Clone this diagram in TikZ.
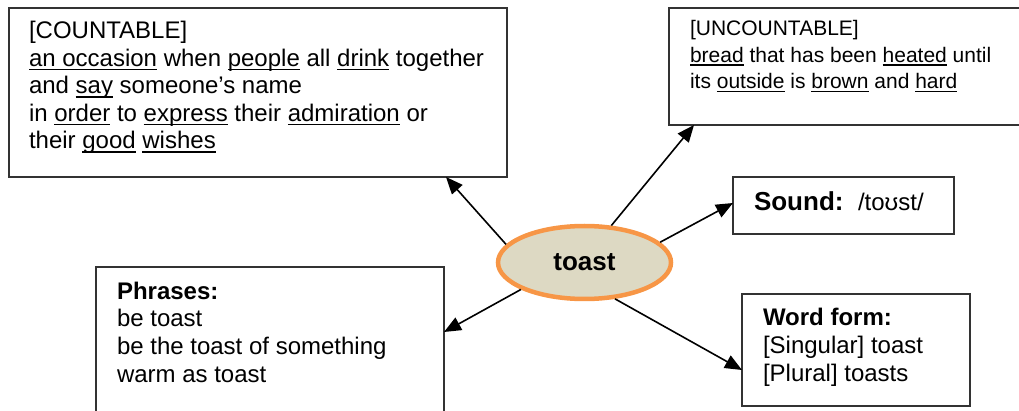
\documentclass[tikz,border=0pt]{standalone}
\usepackage{fontspec}
\setmainfont{Liberation Sans}
\usetikzlibrary{shapes.geometric,arrows.meta}

% underline at a fixed depth below the baseline, scaled with the font
\newsavebox\ulwbox
\newcommand\ulw[1]{\sbox\ulwbox{#1}\rlap{\rule[-0.15em]{\wd\ulwbox}{0.065em}}\usebox{\ulwbox}}

\definecolor{hubline}{HTML}{F79646}
\definecolor{hubfill}{HTML}{DDD9C3}

\begin{document}
\begin{tikzpicture}[x=1pt,y=-1pt,
  card/.style={draw=black!80, line width=1.3pt, fill=white, rectangle,
               inner sep=0pt, outer sep=0pt, anchor=north west},
  body/.style={inner sep=0pt, outer sep=0pt, anchor=base west,
               font=\fontsize{24}{27.5}\selectfont},
  link/.style={line width=1.6pt, -{Triangle[length=17pt,width=14pt]}},
  hub/.style={ellipse, draw=hubline, fill=hubfill, line width=4.5pt,
              minimum width=173pt, minimum height=73pt, inner sep=0pt,
              font=\bfseries\fontsize{26}{30}\selectfont}
]
\useasboundingbox (0,0) rectangle (1019,411);
\clip (0,0) rectangle (1019,411);

% boxes
\node[card, minimum width=498pt, minimum height=169pt] (cnt) at (9,8) {};
\node[card, minimum width=380pt, minimum height=117pt] (unc) at (669,8) {};
\node[card, minimum width=221pt, minimum height=57pt]  (snd) at (733,177) {};
\node[card, minimum width=348pt, minimum height=170pt] (phr) at (96,267) {};
\node[card, minimum width=228pt, minimum height=112pt] (wf)  at (742,294) {};

% box texts
\node[body] (cnttxt) at (29,39) {\parbox[t]{475pt}{[COUNTABLE]\\
  \ulw{an occasion} when \ulw{people} all \ulw{drink} together\\
  and \ulw{say} someone’s name\\
  in \ulw{order} to \ulw{express} their \ulw{admiration} or\\
  their \ulw{good} \ulw{wishes}}};

\node[body, font=\fontsize{21}{26.5}\selectfont] (unctxt) at (690,36)
  {\parbox[t]{325pt}{[UNCOUNTABLE]\\
  \ulw{bread} that has been \ulw{heated} until\\
  its \ulw{outside} is \ulw{brown} and \ulw{hard}}};

\node[body, font=\bfseries\fontsize{26}{30}\selectfont] (sndlbl) at (754,211) {Sound:};
\node[body] (sndipa) at (858,211) {/toʊst/};

\node[body] (phrtxt) at (117,299.5) {\parbox[t]{320pt}{\textbf{Phrases:}\\
  be toast\\
  be the toast of something\\
  warm as toast}};

\node[body] (wftxt) at (763,326) {\parbox[t]{200pt}{\textbf{Word form:}\\
  {[Singular]} toast\\
  {[Plural]} toasts}};

% central word
\node[hub] (toast) at (584.5,262.5) {toast};

% connectors
\draw[link] (toast.167) -- ([xshift=437pt]cnt.south west);
\draw[link] (toast.54)  -- ([xshift=25pt]unc.south west);
\draw[link] (toast.15)  -- ([yshift=2.5pt]snd.west);
\draw[link] (toast.203) -- ([yshift=-65pt]phr.north east);
\draw[link] (toast.310) -- ([yshift=-20pt]wf.west);
\end{tikzpicture}
\end{document}
